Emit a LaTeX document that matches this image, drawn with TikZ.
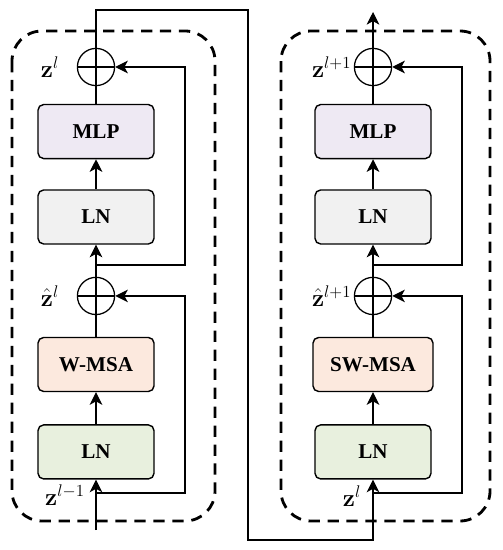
\documentclass[tikz,border=0pt]{standalone}
\usepackage[no-math]{fontspec}
\newfontfamily\blockfont{Liberation Serif}
\usetikzlibrary{arrows.meta, positioning}

\definecolor{mlpfill}{RGB}{238,233,243}
\definecolor{lnfill}{RGB}{241,241,241}
\definecolor{msafill}{RGB}{252,233,222}
\definecolor{lnnorm}{RGB}{232,240,222}

\begin{document}
\begin{tikzpicture}[
      x=0.025cm, y=-0.025cm,
      block/.style={rectangle, draw, line width=1pt, rounded corners=4pt, minimum width=2.9cm, minimum height=1.35cm, font=\blockfont\bfseries\fontsize{15}{17}\selectfont},
      addop/.style={circle, draw, line width=0.9pt, minimum size=0.93cm, inner sep=0pt,
        path picture={\draw[line width=0.9pt] (path picture bounding box.north) -- (path picture bounding box.south)
                                               (path picture bounding box.west) -- (path picture bounding box.east);}},
      lbl/.style={font=\fontsize{18}{21}\selectfont, inner sep=1pt},
      dashbox/.style={draw, line width=2pt, dash pattern=on 8pt off 5.5pt, rounded corners=0.75cm},
      arrow/.style={-{Stealth[length=9pt, width=9pt, inset=2.5pt]}, line width=0.8pt},
      line/.style={line width=0.8pt}
    ]
    \useasboundingbox (0,0) rectangle (502,550);

    % first block (W-MSA)
    \node[addop] (addL2) at (96,67) {};
    \node[block, fill=mlpfill, below=0.44cm of addL2] (mlpL) {MLP};
    \node[block, fill=lnfill, below=0.75cm of mlpL] (lnL2) {LN};
    \node[addop, below=0.8cm of lnL2] (addL1) {};
    \node[block, fill=msafill, below=0.54cm of addL1] (msaL) {W-MSA};
    \node[block, fill=lnnorm, below=0.8cm of msaL] (lnL1) {LN};

    % second block (SW-MSA)
    \node[addop] (addR2) at (373,67) {};
    \node[block, fill=mlpfill, below=0.44cm of addR2] (mlpR) {MLP};
    \node[block, fill=lnfill, below=0.75cm of mlpR] (lnR2) {LN};
    \node[addop, below=0.8cm of lnR2] (addR1) {};
    \node[block, fill=msafill, below=0.54cm of addR1, minimum width=3cm] (msaR) {SW-MSA};
    \node[block, fill=lnnorm, below=0.8cm of msaR] (lnR1) {LN};

    % labels
    \node[lbl, left=0.4cm of addL2] (zL) {$\mathbf{z}^{l}$};
    \node[lbl, left=0.4cm of addL1] (zhL) {$\hat{\mathbf{z}}^{l}$};
    \node[lbl] (zinL) at (65,495) {$\mathbf{z}^{l-1}$};
    \node[lbl, left=0.02cm of addR2] (zR) {$\mathbf{z}^{l+1}$};
    \node[lbl, left=0.02cm of addR1] (zhR) {$\hat{\mathbf{z}}^{l+1}$};
    \node[lbl] (zinR) at (352,496) {$\mathbf{z}^{l}$};

    % dashed frames
    \draw[dashbox] (12,31) rectangle (215,521);
    \draw[dashbox] (281,31) rectangle (490,521);

    % helper points
    \coordinate (inL) at (96,530);
    \coordinate (skipL1) at (185,493);
    \coordinate (skipL2) at (185,265);
    \coordinate (skipR1) at (462,493);
    \coordinate (skipR2) at (462,265);
    \coordinate (topLink) at (96,10);
    \coordinate (downLink) at (248,540);
    \coordinate (outR) at (373,12);

    % first block connections
    \draw[arrow] (inL) -- (lnL1);
    \draw[arrow] (inL |- skipL1) -- (skipL1) |- (addL1.east);
    \draw[arrow] (lnL1) -- (msaL);
    \draw[line] (msaL) -- (addL1);
    \draw[arrow] (addL1) -- (lnL2);
    \draw[arrow] (addL1 |- skipL2) -- (skipL2) |- (addL2.east);
    \draw[arrow] (lnL2) -- (mlpL);
    \draw[line] (mlpL) -- (addL2);

    % link between blocks
    \draw[arrow] (addL2) -- (topLink) -| (downLink) -| (lnR1.south);

    % second block connections
    \draw[arrow] (lnR1.south |- skipR1) -- (skipR1) |- (addR1.east);
    \draw[arrow] (lnR1) -- (msaR);
    \draw[line] (msaR) -- (addR1);
    \draw[arrow] (addR1) -- (lnR2);
    \draw[arrow] (addR1 |- skipR2) -- (skipR2) |- (addR2.east);
    \draw[arrow] (lnR2) -- (mlpR);
    \draw[line] (mlpR) -- (addR2);
    \draw[arrow] (addR2) -- (outR);
  \end{tikzpicture}
\end{document}
